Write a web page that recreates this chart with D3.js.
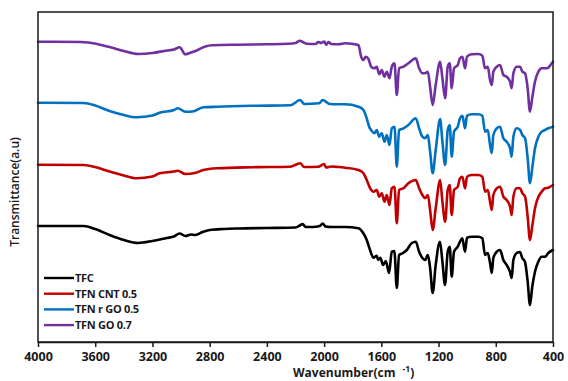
<!DOCTYPE html>
<html>
<head>
<meta charset="utf-8">
<script src="https://cdn.jsdelivr.net/npm/d3@7"></script>
<style>
  body { margin: 0; background: #fff; }
  svg { display: block; font-family: "Open Sans", "DejaVu Sans", sans-serif; }
  .line { fill: none; stroke-width: 2.6; stroke-linejoin: round; stroke-linecap: round; }
</style>
</head>
<body>
<div id="chart"></div>
<script>
// FTIR spectra, values: [wavenumber, transmittance (a.u., offset)]
const seriesNames = ["TFC", "TFN CNT 0.5", "TFN r GO 0.5", "TFN GO 0.7"];
const seriesColors = ["#000000", "#c00000", "#0070c0", "#7030a0"];
const xTicks = [4000, 3600, 3200, 2800, 2400, 2000, 1600, 1200, 800, 400];

const tfc = [
  [4000,116],[3800,116],[3680,116],[3600,113],[3500,107],[3400,102],[3300,99],[3200,101],
  [3100,104],[3050,105.5],[3010,108.5],[2970,106],[2930,107.5],[2900,107],[2850,110],[2800,112],
  [2700,113],[2600,113.5],[2400,114],[2200,114.5],[2170,116.5],[2150,118],[2130,115],[2080,115],
  [2030,116],[2010,118.5],[1990,115.5],[1950,115],[1900,115],
  [1853,115],[1760,113.7],[1727,109],[1702,102],[1679,92],[1655,84.3],[1632,86.3],[1623,82],
  [1607,84.3],[1588,77],[1569,81],[1546,69],[1527,90.3],[1509,91],[1492,54],[1476,87],
  [1448,89],[1422,92],[1387,99],[1359,100.3],[1336,90.3],[1313,84],[1294,82],[1275,87],
  [1259,74],[1241,49],[1220,77],[1190,100.3],[1173,80.3],[1155,57],[1136,90.3],[1122,95.3],
  [1108,65.3],[1092,90.3],[1066,95.3],[1050,100.3],[1034,103.7],[1015,90.3],[1001,104.3],
  [968,105.3],[922,105.3],[894,103.7],[875,87],[856,89],[840,79],[828,69],[817,84],[793,90.3],
  [770,92],[747,82],[724,77],[701,70.3],[689,64],[677,82],[654,89],[631,90],[615,84],
  [596,80.3],[577,60.3],[561,37],[545,55.3],[526,70.3],[503,80.3],[479,85.3],[456,85.3],
  [433,89],[400,92]
];

const tfnCnt = [
  [4000,177.3],[3680,177],[3600,175],[3500,170.5],[3400,166.5],[3311,163.7],[3200,165.5],
  [3150,168.7],[3050,170.5],[3023,171.3],[2970,168],[2896,169.3],[2845,172],[2747,173.7],
  [2500,174.8],[2237,175.3],[2167,178.7],[2139,175],[2040,175.3],[2000,178],[1986,174.5],
  [1950,175.5],[1900,175],
  [1853,174.3],[1760,172],[1725,168.7],[1702,162],[1678,153.7],[1655,150.3],[1632,152],
  [1615,145.3],[1597,148.7],[1578,140.3],[1562,147],[1543,137],[1527,153.7],[1508,155.3],
  [1492,118.7],[1476,152],[1445,153.7],[1411,158.7],[1359,162],[1336,153.7],[1313,147],
  [1294,143.7],[1275,147],[1259,132],[1241,112],[1220,133.7],[1189,162],[1173,140.3],
  [1154,120.3],[1136,152],[1122,157],[1108,127],[1092,152],[1066,155.3],[1050,163.7],
  [1033,165.3],[1015,153.7],[1001,165.3],[968,167],[922,167],[894,165.3],[875,150.3],
  [856,152],[840,140.3],[828,132],[817,147],[793,153.7],[770,155.3],[747,145.3],[724,142],
  [700,135.3],[689,127],[677,145.3],[654,153.7],[630,153.7],[614,148.7],[595,145.3],
  [577,125.3],[561,102],[544,117],[526,133.7],[502,145.3],[479,150.3],[456,153.7],
  [433,154.3],[400,157]
];

const tfnRgo = [
  [4000,239.3],[3680,239],[3600,236.5],[3500,231],[3400,227],[3311,224.7],[3200,226.5],
  [3150,229.3],[3049,232],[3023,233.7],[2970,230.3],[2920,230.5],[2845,234.7],[2747,235.3],
  [2500,236.2],[2237,236.7],[2167,242],[2139,238],[2035,238.7],[2010,242],[1960,238],
  [1900,237.7],
  [1853,237.7],[1760,235.3],[1725,232],[1702,223.7],[1685,215.3],[1667,211],[1648,208.7],
  [1632,212],[1615,205.3],[1597,208.7],[1578,200.3],[1562,207],[1543,197],[1527,213.7],
  [1508,215.3],[1492,175.3],[1476,212],[1445,213.7],[1411,217],[1359,223.7],[1336,213.7],
  [1313,205.3],[1294,203.7],[1275,207],[1259,190.3],[1241,168.7],[1220,192],[1189,223],
  [1173,200.3],[1154,177],[1136,212],[1122,217],[1108,185.3],[1092,210.3],[1066,215.3],
  [1050,223.7],[1033,226.3],[1015,213.7],[1001,226.3],[968,227.7],[922,227.7],[894,226.3],
  [875,210.3],[856,212],[840,197],[828,188.7],[817,207],[793,213.7],[770,215.3],[747,203.7],
  [724,200.3],[700,193.7],[689,185.3],[677,205.3],[654,213.7],[630,212],[614,207],
  [595,203.7],[577,183.7],[561,158.7],[544,175.3],[526,193.7],[502,205.3],[479,210.3],
  [456,212],[433,213.7],[400,215.3]
];

const tfnGo = [
  [4000,300.3],[3700,300],[3650,299.5],[3500,295],[3400,291],[3300,288],[3200,289],
  [3100,291.5],[3050,292.5],[3010,294.7],[2970,287.7],[2940,289],[2920,290],[2890,291.5],
  [2870,293],[2830,295.5],[2780,296.7],[2600,297.3],[2400,297.7],[2250,298.2],[2200,299],
  [2170,301.3],[2150,300],[2120,298.3],[2060,298],[2040,300],[2020,299],[2000,300.5],
  [1985,297.3],[1970,300],[1950,298],[1900,297.7],
  [1853,298.7],[1760,297],[1741,285.3],[1725,282],[1709,285.3],[1690,283],[1671,275.3],
  [1648,273.7],[1632,275.3],[1615,267.7],[1597,272],[1578,265.3],[1562,270.3],[1543,263.7],
  [1527,275.3],[1508,278.7],[1492,247],[1476,273.7],[1445,275.3],[1411,278.7],[1359,283.7],
  [1336,273.7],[1313,268.7],[1294,268.7],[1275,270.3],[1259,255.3],[1241,237],[1220,257],
  [1189,280.3],[1173,263.7],[1154,243.7],[1136,275.3],[1122,278.7],[1108,253.7],[1092,273.7],
  [1066,277],[1050,283.7],[1033,285.3],[1015,273.7],[1001,285.3],[968,287.7],[922,288],
  [894,286.3],[875,273.7],[856,275.3],[840,262],[828,257],[817,270.3],[793,275.3],[770,277],
  [747,267],[724,265.3],[700,260.3],[689,253.7],[677,268.7],[654,275.3],[630,275.3],
  [614,270.3],[595,268.7],[577,253.7],[561,230.3],[544,245.3],[526,260.3],[502,270.3],
  [479,273.7],[456,273.7],[433,274.3],[409,278.7],[400,280.3]
];

const allSeries = [tfc, tfnCnt, tfnRgo, tfnGo];

const width = 568, height = 381;
const margin = { top: 12, right: 15, bottom: 39, left: 38 };

const svg = d3.select("#chart").append("svg")
  .attr("width", width)
  .attr("height", height);

const x = d3.scaleLinear()
  .domain([4000, 400])
  .range([margin.left, width - margin.right]);

const y = d3.scaleLinear()
  .domain([0, 330])
  .range([height - margin.bottom, margin.top]);

const line = d3.line()
  .x(d => x(d[0]))
  .y(d => y(d[1]))
  .curve(d3.curveMonotoneX);

// spectra
svg.append("g")
  .selectAll("path")
  .data(allSeries)
  .join("path")
  .attr("class", "line")
  .attr("stroke", (d, i) => seriesColors[i])
  .attr("d", line);

// frame
svg.append("rect")
  .attr("x", margin.left)
  .attr("y", margin.top)
  .attr("width", width - margin.left - margin.right)
  .attr("height", height - margin.top - margin.bottom)
  .attr("fill", "none")
  .attr("stroke", "#1a1a1a")
  .attr("stroke-width", 1.5);

// x axis
const xAxis = svg.append("g")
  .attr("transform", `translate(0,${height - margin.bottom})`)
  .call(d3.axisBottom(x).tickValues(xTicks).tickFormat(d3.format("d"))
    .tickSize(5).tickSizeOuter(0).tickPadding(5));

xAxis.select(".domain").attr("stroke", "#1a1a1a").attr("stroke-width", 1.5);
xAxis.selectAll(".tick line").attr("stroke", "#1a1a1a").attr("stroke-width", 1.5);
xAxis.selectAll(".tick text")
  .attr("fill", "#1a1a1a")
  .style("font-size", "12.5px")
  .style("font-weight", "700")
  .style("font-family", "'Open Sans', sans-serif");

// x label
const xl = svg.append("text")
  .attr("x", 293)
  .attr("y", 376.5)
  .attr("fill", "#1a1a1a")
  .style("font-size", "12px")
  .style("font-weight", "700");
xl.append("tspan").text("Wavenumber(cm ");
xl.append("tspan").attr("dx", 4).attr("dy", -5).style("font-size", "8.5px").text("-1");
xl.append("tspan").attr("dy", 5).text(")");

// y label
svg.append("text")
  .attr("transform", "translate(19,192) rotate(-90)")
  .attr("text-anchor", "middle")
  .attr("fill", "#1a1a1a")
  .style("font-size", "12px")
  .style("font-weight", "600")
  .text("Transmittance(a.u)");

// legend
const legend = svg.append("g")
  .selectAll("g")
  .data(seriesNames)
  .join("g")
  .attr("transform", (d, i) => `translate(44,${278 + i * 15.7})`);

legend.append("line")
  .attr("x1", 0).attr("x2", 30)
  .attr("stroke", (d, i) => seriesColors[i])
  .attr("stroke-width", 2.4);

legend.append("text")
  .attr("x", 31)
  .attr("dy", "0.35em")
  .attr("fill", "#1a1a1a")
  .style("font-size", "11px")
  .style("font-weight", "700")
  .style("letter-spacing", "-0.3px")
  .text(d => d);
</script>
</body>
</html>
